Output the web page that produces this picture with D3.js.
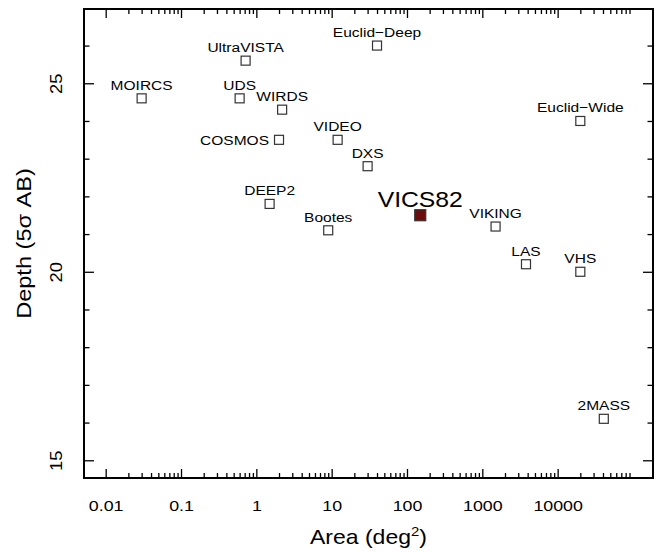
<!DOCTYPE html>
<html>
<head>
<meta charset="utf-8">
<script src="https://cdn.jsdelivr.net/npm/d3@7"></script>
<style>
  body { margin: 0; background: #fff; }
  text { font-family: "Liberation Sans", Arial, Helvetica, sans-serif; fill: #000; }
</style>
</head>
<body>
<div id="chart"></div>
<script>
// survey names, area in deg^2 and 5 sigma AB depth
var surveys = ["MOIRCS", "UltraVISTA", "UDS", "WIRDS", "COSMOS", "VIDEO", "DEEP2", "Bootes",
               "Euclid\u2212Deep", "Euclid\u2212Wide", "DXS", "VICS82", "VIKING", "LAS", "VHS", "2MASS"];
var area   = [0.03, 0.72, 0.6, 2.2, 2.0, 12, 1.5, 9, 40, 20000, 30, 150, 1500, 3800, 20000, 41000];
var depth  = [24.6, 25.6, 24.6, 24.3, 23.5, 23.5, 21.8, 21.1, 26.0, 24.0, 22.8, 21.5, 21.2, 20.2, 20.0, 16.1];

var xMajor = [0.01, 0.1, 1, 10, 100, 1000, 10000];
var xLabels = ["0.01", "0.1", "1", "10", "100", "1000", "10000"];
var yMajor = [15, 20, 25];

var highlight = "VICS82";

var width = 665, height = 552;
var plot = {left: 84, right: 653, top: 9, bottom: 478};
var k = 1.15; // glyphs in the original are a bit wider than Arial

var x = d3.scaleLog()
    .domain([Math.pow(10, -2.288), Math.pow(10, 5.266)])
    .range([plot.left, plot.right]);

var y = d3.scaleLinear()
    .domain([14.53, 26.97])
    .range([plot.bottom, plot.top]);

// minor ticks 2..9 in each decade
var xMinor = [];
xMajor.forEach(function(d) {
  for (var m = 2; m <= 9; m++) xMinor.push(d * m);
});
var yMinor = d3.range(15, 27).filter(function(d) { return yMajor.indexOf(d) < 0; });

var svg = d3.select("#chart").append("svg")
    .attr("width", width)
    .attr("height", height);

function styleTicks(g) {
  g.select(".domain").remove();
  g.selectAll(".tick line").attr("stroke", "#000").attr("stroke-width", 1.3);
}

// bottom axis with labels
svg.append("g")
    .attr("transform", "translate(0," + plot.bottom + ")")
    .call(d3.axisBottom(x).tickValues(xMajor).tickSize(-9).tickSizeOuter(0).tickPadding(22)
      .tickFormat(function(d, i) { return xLabels[i]; }))
    .call(styleTicks)
    .call(function(g) {
      g.selectAll("text")
        .attr("font-size", 15.5)
        .attr("font-family", null)
        .attr("transform", "scale(" + k + ",1)");
    });
svg.append("g")
    .attr("transform", "translate(0," + plot.bottom + ")")
    .call(d3.axisBottom(x).tickValues(xMinor).tickSize(-5).tickFormat(""))
    .call(styleTicks);

// top axis
svg.append("g")
    .attr("transform", "translate(0," + plot.top + ")")
    .call(d3.axisTop(x).tickValues(xMajor).tickSize(-9).tickFormat(""))
    .call(styleTicks);
svg.append("g")
    .attr("transform", "translate(0," + plot.top + ")")
    .call(d3.axisTop(x).tickValues(xMinor).tickSize(-5).tickFormat(""))
    .call(styleTicks);

// left axis with rotated labels
svg.append("g")
    .attr("transform", "translate(" + plot.left + ",0)")
    .call(d3.axisLeft(y).tickValues(yMajor).tickSize(-10).tickFormat(d3.format("d")))
    .call(styleTicks)
    .call(function(g) {
      g.selectAll("text")
        .attr("x", null).attr("y", 0).attr("dy", null)
        .attr("font-size", 16)
        .attr("font-family", null)
        .attr("text-anchor", "middle")
        .attr("transform", "translate(-22,0) rotate(-90) scale(" + k + ",1)");
    });
svg.append("g")
    .attr("transform", "translate(" + plot.left + ",0)")
    .call(d3.axisLeft(y).tickValues(yMinor).tickSize(-5.5).tickFormat(""))
    .call(styleTicks);

// right axis
svg.append("g")
    .attr("transform", "translate(" + plot.right + ",0)")
    .call(d3.axisRight(y).tickValues(yMajor).tickSize(-10).tickFormat(""))
    .call(styleTicks);
svg.append("g")
    .attr("transform", "translate(" + plot.right + ",0)")
    .call(d3.axisRight(y).tickValues(yMinor).tickSize(-5.5).tickFormat(""))
    .call(styleTicks);

// frame
svg.append("rect")
    .attr("x", plot.left).attr("y", plot.top)
    .attr("width", plot.right - plot.left).attr("height", plot.bottom - plot.top)
    .attr("fill", "none").attr("stroke", "#000").attr("stroke-width", 2);

// axis titles
var xt = svg.append("text")
    .attr("transform", "translate(" + ((plot.left + plot.right) / 2) + ",544) scale(" + k + ",1)")
    .attr("text-anchor", "middle")
    .attr("font-size", 20);
xt.append("tspan").text("Area (deg");
xt.append("tspan").attr("font-size", 13).attr("dy", -8).text("2");
xt.append("tspan").attr("dy", 8).text(")");

svg.append("text")
    .attr("transform", "translate(31," + ((plot.top + plot.bottom) / 2) + ") rotate(-90) scale(" + k + ",1)")
    .attr("text-anchor", "middle")
    .attr("font-size", 20.5)
    .text("Depth (5\u03c3 AB)");

// points
var data = surveys.map(function(s, i) { return {name: s, area: area[i], depth: depth[i]}; });

svg.selectAll(".pt")
    .data(data)
  .enter().append("rect")
    .attr("class", "pt")
    .attr("x", function(d) { return x(d.area) - (d.name === highlight ? 5.5 : 4.5); })
    .attr("y", function(d) { return y(d.depth) - (d.name === highlight ? 5.5 : 4.5); })
    .attr("width", function(d) { return d.name === highlight ? 11 : 9; })
    .attr("height", function(d) { return d.name === highlight ? 11 : 9; })
    .attr("fill", function(d) { return d.name === highlight ? "#6b0d0d" : "none"; })
    .attr("stroke", "#333")
    .attr("stroke-width", 1.2);

// labels: above the square, COSMOS sits to the left
svg.selectAll(".lbl")
    .data(data)
  .enter().append("text")
    .attr("class", "lbl")
    .attr("text-anchor", function(d) { return d.name === "COSMOS" ? "end" : "middle"; })
    .attr("font-size", function(d) { return d.name === highlight ? 21.5 : 13.5; })
    .attr("transform", function(d) {
      var px = x(d.area), py = y(d.depth);
      if (d.name === "COSMOS") { px -= 10; py += 5; } else { py -= 8.5; }
      return "translate(" + px + "," + py + ") scale(" + k + ",1)";
    })
    .text(function(d) { return d.name; });
</script>
</body>
</html>
